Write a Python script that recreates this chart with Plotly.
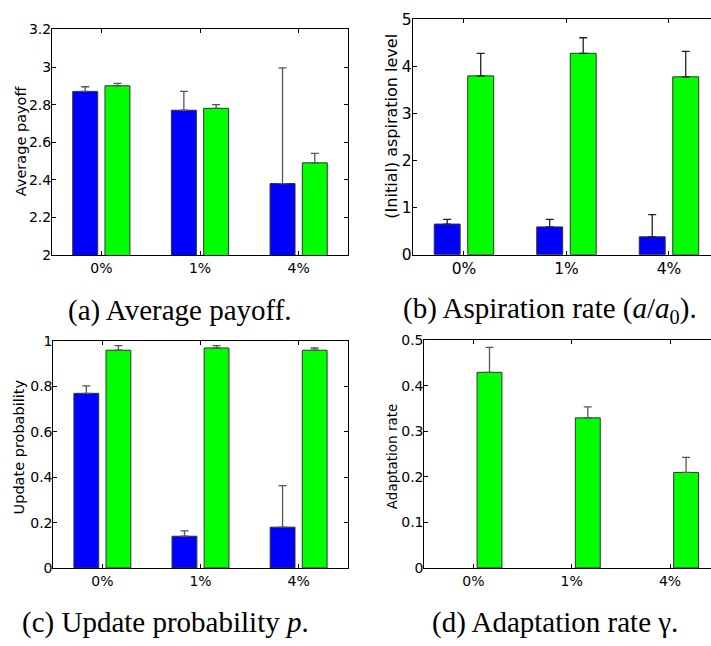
import plotly.graph_objects as go

# Noise levels on the x axis
categories = ["0%", "1%", "4%"]

# (a) Average payoff
payoff_blue = [2.87, 2.77, 2.38]
payoff_blue_err = [0.025, 0.10, 0.615]
payoff_green = [2.90, 2.78, 2.49]
payoff_green_err = [0.013, 0.02, 0.05]

# (b) (Initial) aspiration level
asp_blue = [0.65, 0.59, 0.38]
asp_blue_err = [0.10, 0.16, 0.47]
asp_green = [3.80, 4.28, 3.78]
asp_green_err = [0.48, 0.33, 0.54]

# (c) Update probability
upd_blue = [0.77, 0.14, 0.18]
upd_blue_err = [0.033, 0.024, 0.183]
upd_green = [0.96, 0.97, 0.96]
upd_green_err = [0.02, 0.01, 0.01]

# (d) Adaptation rate (only the green learners adapt)
ada_blue = [0.0, 0.0, 0.0]
ada_blue_err = [0.0, 0.0, 0.0]
ada_green = [0.43, 0.33, 0.21]
ada_green_err = [0.055, 0.024, 0.033]

W, H = 711, 646
BLUE = "#0000FF"
GREEN = "#00FF00"


def px(x):
    return x / W


def py(y):
    return 1 - y / H


panels = [
    # key, blue, blue_err, green, green_err, x-dom (px), y-dom (px top, bottom),
    # y range, dtick, x upper, err colour, tick font size
    ("", payoff_blue, payoff_blue_err, payoff_green, payoff_green_err,
     (52, 348), (21, 253), [2, 3.2], 0.2, 3.5, "#555555", 14),
    ("2", asp_blue, asp_blue_err, asp_green, asp_green_err,
     (412.7, 711), (10.7, 252.7), [0, 5], 1, 3.41, "#222222", 15.5),
    ("3", upd_blue, upd_blue_err, upd_green, upd_green_err,
     (53.3, 347.7), (341.7, 575), [0, 1], 0.2, 3.5, "#555555", 14),
    ("4", ada_blue, ada_blue_err, ada_green, ada_green_err,
     (424.3, 711), (341, 575), [0, 0.5], 0.1, 3.417, "#555555", 14),
]

fig = go.Figure()
layout = {}
for key, b, be, g, ge, xd, yd, yr, dt, xmax, ecol, fs in panels:
    xa = "x" + key
    ya = "y" + key
    tick_font = dict(family="DejaVu Sans", size=fs, color="black")
    for vals, errs, col in ((b, be, BLUE), (g, ge, GREEN)):
        fig.add_trace(go.Bar(
            x=[1, 2, 3], y=vals, xaxis=xa, yaxis=ya,
            marker=dict(color=col,
                        line=dict(color="#333333", width=[1 if v else 0 for v in vals])),
            error_y=dict(type="data", array=errs, symmetric=False,
                         arrayminus=[0, 0, 0], color=ecol, thickness=1.3, width=4,
                         visible=any(errs)),
            showlegend=False,
        ))
    full = (xd[1] >= W)
    layout["xaxis" + key] = dict(
        domain=[px(xd[0]), min(1.0, px(xd[1]))], anchor=ya,
        range=[0.5, xmax], tickvals=[1, 2, 3], ticktext=categories,
        ticks="inside", ticklen=4, tickcolor="black",
        showline=True, linecolor="black", linewidth=1,
        mirror="ticks", showgrid=False, zeroline=False,
        tickfont=tick_font, ticklabelstandoff=0, fixedrange=True,
    )
    layout["yaxis" + key] = dict(
        domain=[py(yd[1]), py(yd[0])], anchor=xa,
        range=yr, dtick=dt, tick0=yr[0],
        ticks="inside", ticklen=4, tickcolor="black",
        showline=True, linecolor="black", linewidth=1,
        mirror=False if full else "ticks", showgrid=False, zeroline=False,
        tickfont=tick_font, ticklabelstandoff=-3, fixedrange=True,
    )

fig.update_layout(**layout)

# Axis titles placed over the tick-label column
ytitles = [
    ("Average payoff", 21, 136, 14.5),
    ("(Initial) aspiration level", 392, 121, 16),
    ("Update probability", 19, 451, 14.5),
    ("Adaptation rate", 392, 460, 13.5),
]
for text, x, y, size in ytitles:
    fig.add_annotation(text=text, x=px(x), y=py(y), xref="paper", yref="paper",
                       showarrow=False, textangle=-90, xanchor="center", yanchor="middle",
                       font=dict(family="DejaVu Sans", size=size, color="black"))

# Sub-figure captions
captions = [
    ("(a) Average payoff.", 180, 310),
    ("(b) Aspiration rate (<i>a</i>/<i>a</i><sub>0</sub>).", 550, 310),
    ("(c) Update probability <i>p</i>.", 165, 631),
    ("(d) Adaptation rate γ.", 555, 631),
]
for text, x, y in captions:
    fig.add_annotation(text=text, x=px(x), y=py(y), xref="paper", yref="paper",
                       showarrow=False, xanchor="center", yanchor="middle",
                       font=dict(family="Liberation Serif", size=29, color="black"))

fig.update_layout(
    width=W, height=H, autosize=False,
    margin=dict(l=0, r=0, t=0, b=0),
    paper_bgcolor="white", plot_bgcolor="white",
    barmode="group", bargap=0.346, bargroupgap=0.226,
)

fig.write_html("out.html", config={"displayModeBar": False})
